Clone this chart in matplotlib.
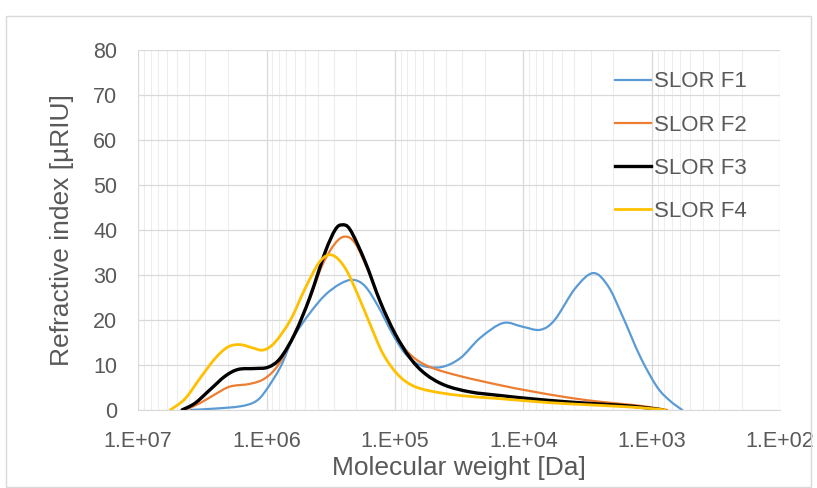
import numpy as np
import matplotlib.pyplot as plt
from matplotlib.patches import Rectangle, PathPatch
from matplotlib.path import Path
from matplotlib.lines import Line2D
from matplotlib.ticker import FixedLocator, FuncFormatter, LogLocator, NullFormatter

plt.rcParams['font.family'] = ['Liberation Sans', 'DejaVu Sans']

# molecular weight [Da] and refractive index [uRIU]
f1_mw = [3.9e6, 2.5e6, 1.6e6, 1.23e6, 1.03e6, 7.8e5, 6.2e5, 4.6e5, 3.5e5, 2.67e5, 2.12e5,
         1.71e5, 1.35e5, 1.05e5, 8.3e4, 6.4e4, 4.4e4, 3.1e4, 2.17e4, 1.44e4, 1.02e4, 7.4e3,
         5.7e3, 3.95e3, 2.86e3, 2.19e3, 1.70e3, 1.23e3, 9.1e2, 7.2e2, 5.8e2]
f1_ri = [0, 0.3, 0.8, 1.8, 4, 9.5, 16, 21.5, 25.5, 28, 28.9,
         27.5, 23, 17, 12.5, 10, 9.5, 11.5, 16, 19.3, 18.5, 17.8,
         20, 27, 30.4, 27.5, 21, 11.8, 5.1, 2, 0]

f2_mw = [4.3e6, 3.3e6, 2.5e6, 1.92e6, 1.34e6, 1.03e6, 8.1e5, 6.3e5, 4.7e5, 3.7e5, 2.92e5,
         2.44e5, 2.04e5, 1.62e5, 1.26e5, 9.6e4, 7.4e4, 5.3e4, 3.1e4, 1.52e4, 8.9e3, 4.6e3,
         2.5e3, 1.4e3, 1.03e3, 7.6e2]
f2_ri = [0, 1.5, 3.5, 5.2, 5.8, 7, 10, 16, 24, 32, 37,
         38.5, 37, 31, 23, 16, 12, 9.5, 7.5, 5.5, 4.2, 2.8,
         1.8, 1.1, 0.6, 0]

f3_mw = [4.54e6, 3.6e6, 2.75e6, 2.1e6, 1.66e6, 1.23e6, 9.7e5, 7.8e5, 6.0e5, 4.6e5, 3.5e5,
         2.92e5, 2.58e5, 2.23e5, 1.71e5, 1.30e5, 1.0e5, 7.6e4, 5.8e4, 4.1e4, 2.6e4, 1.52e4,
         8.9e3, 4.6e3, 2.5e3, 1.4e3, 8.2e2]
f3_ri = [0, 1.5, 4.5, 7.5, 9, 9.2, 9.5, 11.5, 17, 25, 35,
         40, 41.1, 40, 33, 24, 17, 11.5, 8, 5.5, 4, 3.2,
         2.5, 1.8, 1.3, 0.8, 0]

f4_mw = [5.6e6, 4.3e6, 3.3e6, 2.5e6, 1.99e6, 1.6e6, 1.29e6, 1.06e6, 8.6e5, 6.5e5, 5.0e5,
         3.83e5, 3.08e5, 2.44e5, 1.94e5, 1.56e5, 1.24e5, 9.6e4, 7.4e4, 5.3e4, 3.1e4, 1.52e4,
         6.2e3, 2.5e3, 1.23e3, 7.9e2]
f4_ri = [0, 2.5, 7, 11.5, 14, 14.5, 13.8, 13.3, 15, 20, 27,
         33, 34.4, 31.5, 25.5, 19, 12.5, 8, 5.5, 4.2, 3.2, 2.5,
         1.6, 1.0, 0.5, 0]

labels = ['SLOR F1', 'SLOR F2', 'SLOR F3', 'SLOR F4']
colors = ['#5B9BD5', '#ED7D31', 'black', '#FFC000']
widths = [1.6, 1.6, 2.4, 2.0]
x_ticks = [1e7, 1e6, 1e5, 1e4, 1e3, 1e2]
y_ticks = [0, 10, 20, 30, 40, 50, 60, 70, 80]


def smooth_path(mw, ri):
    # Excel-style smoothed line: Catmull-Rom bezier through the points, in log-x space
    pts = np.column_stack([np.log10(mw), np.asarray(ri, float)])
    ext = np.vstack([pts[0], pts, pts[-1]])
    verts = [pts[0]]
    for i in range(len(pts) - 1):
        p0, p1, p2, p3 = ext[i], ext[i + 1], ext[i + 2], ext[i + 3]
        verts += [p1 + (p2 - p0) / 6, p2 - (p3 - p1) / 6, p2]
    verts = np.array(verts)
    verts[:, 0] = 10 ** verts[:, 0]
    codes = [Path.MOVETO] + [Path.CURVE4] * (3 * (len(pts) - 1))
    return Path(verts, codes)


fig = plt.figure(figsize=(8.17, 4.88), dpi=100)
ax = fig.add_axes([0.169, 0.160, 0.786, 0.738])

grey = '#595959'
series = [(f1_mw, f1_ri), (f2_mw, f2_ri), (f3_mw, f3_ri), (f4_mw, f4_ri)]
handles = []
for (mw, ri), lab, c, w in zip(series, labels, colors, widths):
    ax.add_patch(PathPatch(smooth_path(mw, ri), fill=False, edgecolor=c, lw=w,
                           capstyle='round', joinstyle='round'))
    handles.append(Line2D([], [], color=c, lw=w, label=lab))

ax.set_xscale('log')
ax.set_xlim(1e7, 1e2)
ax.set_ylim(0, 80)
ax.xaxis.set_major_locator(FixedLocator(x_ticks))
ax.xaxis.set_major_formatter(FuncFormatter(lambda v, p: '1.E+%02d' % round(np.log10(v))))
ax.xaxis.set_minor_locator(LogLocator(base=10, subs=np.arange(2, 10), numticks=20))
ax.xaxis.set_minor_formatter(NullFormatter())
ax.set_yticks(y_ticks)

ax.grid(which='major', color='#D9D9D9', lw=0.9)
ax.grid(which='minor', axis='x', color='#EDEDED', lw=0.8)
ax.set_axisbelow(True)
for s in ax.spines.values():
    s.set_visible(False)
ax.spines['bottom'].set_visible(True)
ax.spines['bottom'].set_color('#D9D9D9')
ax.tick_params(which='both', length=0, colors=grey, labelsize=15.5)
ax.tick_params(axis='x', pad=15)
ax.tick_params(axis='y', pad=15)

ax.set_xlabel('Molecular weight [Da]', fontsize=19, color=grey, labelpad=3)
ax.set_ylabel('Refractive index [µRIU]', fontsize=19, color=grey, labelpad=14)

ax.legend(handles=handles, loc='upper left', bbox_to_anchor=(0.743, 0.94), frameon=False,
          fontsize=16, labelspacing=1.0, handlelength=1.6, handletextpad=0.15,
          borderaxespad=0, borderpad=0, labelcolor=grey)

fig.patches.append(Rectangle((0.007, 0.002), 0.986, 0.966, transform=fig.transFigure,
                             fill=False, edgecolor='#D9D9D9', lw=1))

fig.savefig('out.png', dpi=100)
